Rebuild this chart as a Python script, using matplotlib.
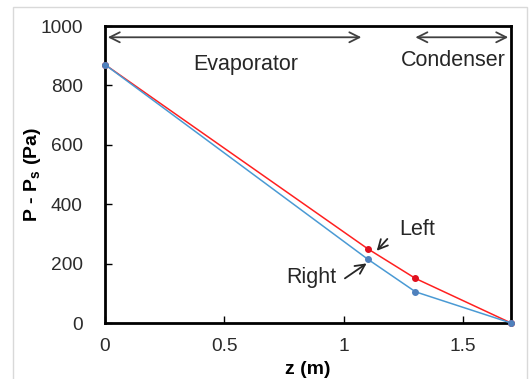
import matplotlib

matplotlib.use("Agg")
import matplotlib.pyplot as plt  # noqa: E402
from matplotlib.patches import Rectangle  # noqa: E402

plt.rcParams["font.family"] = ["Liberation Sans", "DejaVu Sans"]

z_points = [0.0, 1.1, 1.3, 1.7]
left_dp = [870, 250, 150, 0]
right_dp = [870, 215, 105, 0]
x_ticks = [0, 0.5, 1, 1.5]
y_ticks = [0, 200, 400, 600, 800, 1000]

fig = plt.figure(figsize=(5.32, 3.79), dpi=100)
fig.patches.append(
    Rectangle((13 / 532, -0.01), 0.99 - 13 / 532, 1 - 7 / 379 + 0.01,
              transform=fig.transFigure, fill=False, edgecolor="#d9d9d9", linewidth=1)
)
ax = fig.add_axes([105 / 532, 1 - 323 / 379, (511 - 105) / 532, (323 - 26) / 379])

ax.plot(z_points, left_dp, color="#ff2020", linewidth=1.1, marker="o",
        markersize=4, markerfacecolor="#e0101e", markeredgecolor="#e0101e",
        clip_on=False, zorder=3)
ax.plot(z_points, right_dp, color="#4a9ad4", linewidth=1.1, marker="o",
        markersize=4, markerfacecolor="#4f81bd", markeredgecolor="#4f81bd",
        clip_on=False, zorder=3)

ax.set_xlim(0, 1.7)
ax.set_ylim(0, 1000)
ax.set_xticks(x_ticks)
ax.set_xticklabels(["0", "0.5", "1", "1.5"])
ax.set_yticks(y_ticks)
ax.tick_params(direction="in", length=5, width=1, labelsize=13.75,
               labelcolor="#2b2b2b")
ax.tick_params(axis="y", pad=16)
ax.tick_params(axis="x", pad=11)
for spine in ax.spines.values():
    spine.set_linewidth(2)

ax.set_xlabel("z (m)", fontsize=14, fontweight="bold", labelpad=4)
ax.set_ylabel("P - P$_\\mathregular{s}$ (Pa)", fontsize=14, fontweight="bold", labelpad=-2)

arrow_style = dict(arrowstyle="<->", color="#404040", linewidth=1.3, mutation_scale=18)
ax.annotate("", xy=(1.085, 962), xytext=(0.0, 962), arrowprops=arrow_style,
            annotation_clip=False)
ax.annotate("", xy=(1.7, 962), xytext=(1.288, 962), arrowprops=arrow_style,
            annotation_clip=False)
ax.text(0.588, 872, "Evaporator", ha="center", va="center", fontsize=15.5, color="#262626")
ax.text(1.459, 885, "Condenser", ha="center", va="center", fontsize=15.5, color="#262626")

pointer = dict(arrowstyle="->", color="#262626", linewidth=1.3, mutation_scale=17)
ax.annotate("", xy=(1.13, 236), xytext=(1.19, 290), arrowprops=pointer)
ax.text(1.307, 316, "Left", ha="center", va="center", fontsize=15.5, color="#262626")
ax.annotate("", xy=(1.105, 206), xytext=(0.995, 145), arrowprops=pointer)
ax.text(0.863, 152, "Right", ha="center", va="center", fontsize=15.5, color="#262626")

fig.savefig("out.png", dpi=100)
